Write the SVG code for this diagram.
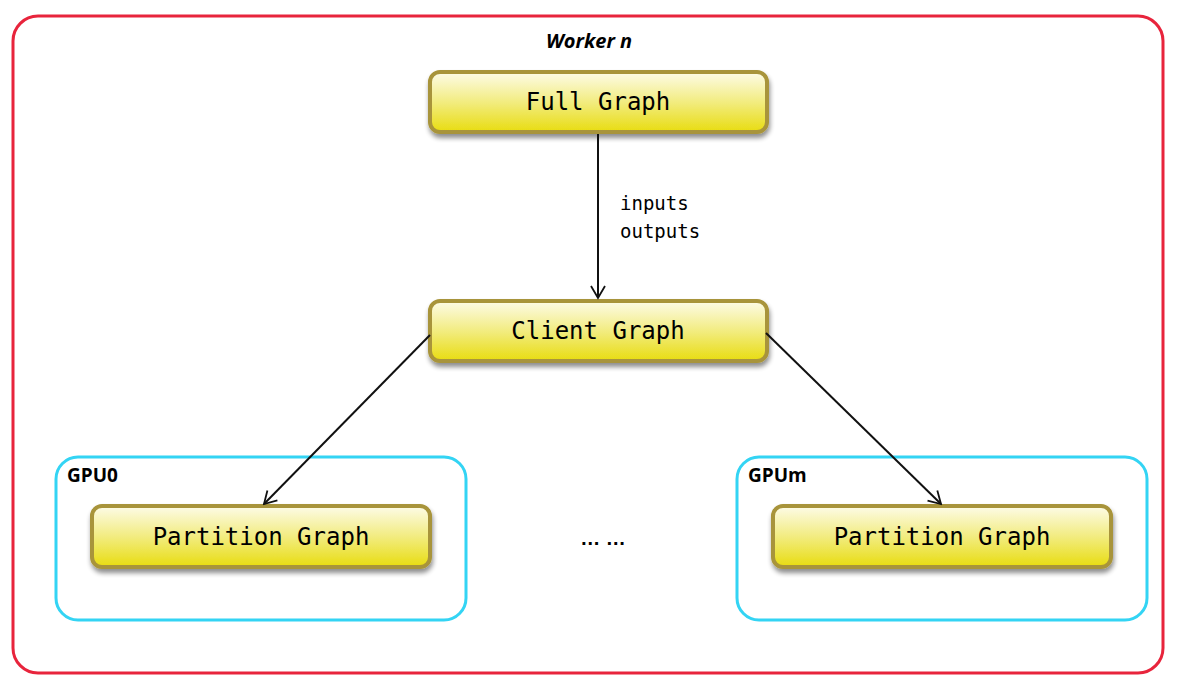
<svg xmlns="http://www.w3.org/2000/svg" width="1178" height="692" viewBox="0 0 1178 692">
<defs>
<linearGradient id="yg" x1="0" y1="0" x2="0" y2="1">
<stop offset="0" stop-color="#fdfbe8"/>
<stop offset="0.5" stop-color="#f2ec80"/>
<stop offset="1" stop-color="#e8dc10"/>
</linearGradient>
<filter id="sh" x="-10%" y="-20%" width="120%" height="160%">
<feGaussianBlur in="SourceAlpha" stdDeviation="2.5"/>
<feOffset dx="1" dy="4"/>
<feComponentTransfer><feFuncA type="linear" slope="0.45"/></feComponentTransfer>
<feMerge><feMergeNode/><feMergeNode in="SourceGraphic"/></feMerge>
</filter>
<marker id="ah" markerWidth="16" markerHeight="16" refX="14" refY="8" orient="auto" markerUnits="userSpaceOnUse">
<path d="M2,1 L14,8 L2,15" fill="none" stroke="#111" stroke-width="1.8"/>
</marker>
</defs>
<style>
.node rect{fill:url(#yg);stroke:#a8943a;stroke-width:4;filter:url(#sh)}
.node text{font-family:"DejaVu Sans Mono",monospace;font-size:24px;fill:#000;text-anchor:middle}
.gpu{fill:none;stroke:#33d4f4;stroke-width:3}
.gl{font-family:"Open Sans","Liberation Sans",sans-serif;font-weight:bold;font-size:19px;fill:#000}
.conn line{stroke:#111;stroke-width:2}
.lbl{font-family:"DejaVu Sans Mono",monospace;font-size:19px;fill:#000}
</style>
<rect id="worker" x="13" y="16" width="1150" height="657" rx="25" fill="#fff" stroke="#e8243c" stroke-width="3"/>
<text x="589" y="48" text-anchor="middle" font-family="'Open Sans','Liberation Sans',sans-serif" font-weight="bold" font-style="italic" font-size="20">Worker n</text>
<g id="gpu0"><rect class="gpu" x="56" y="457" width="410" height="163" rx="22"/><text class="gl" x="67" y="482">GPU0</text></g>
<g id="gpum"><rect class="gpu" x="737" y="457" width="410" height="163" rx="22"/><text class="gl" x="748" y="482">GPUm</text></g>
<g id="full" class="node"><rect x="430" y="72" width="337" height="60" rx="10"/><text x="598" y="110">Full Graph</text></g>
<g id="client" class="node"><rect x="430" y="301" width="337" height="60" rx="10"/><text x="598" y="339">Client Graph</text></g>
<g id="part0" class="node"><rect x="92" y="506" width="338" height="61" rx="10"/><text x="261" y="545">Partition Graph</text></g>
<g id="partm" class="node"><rect x="773" y="506" width="338" height="61" rx="10"/><text x="942" y="545">Partition Graph</text></g>
<g id="connectors" class="conn">
<line x1="598" y1="134" x2="598" y2="298" marker-end="url(#ah)"/>
<line x1="430" y1="335" x2="264" y2="504" marker-end="url(#ah)"/>
<line x1="766" y1="333" x2="941" y2="504" marker-end="url(#ah)"/>
</g>
<text class="lbl" x="620" y="210">inputs</text>
<text class="lbl" x="620" y="238">outputs</text>
<text x="603" y="545" text-anchor="middle" font-family="'Liberation Sans',sans-serif" font-weight="bold" font-size="20">… …</text>
</svg>
